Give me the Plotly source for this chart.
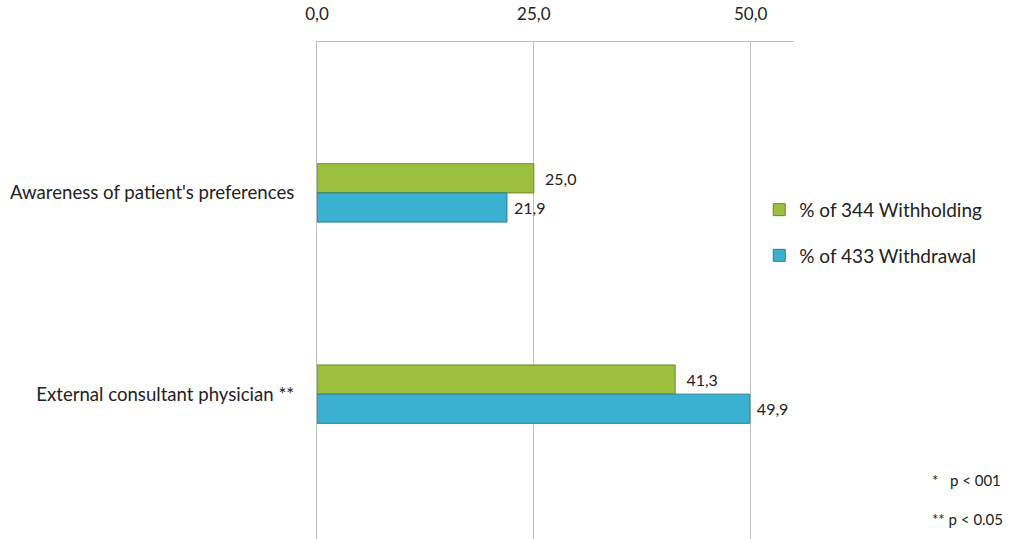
import plotly.graph_objects as go

categories = ["Awareness of patient's preferences", "External consultant physician **"]
withholding = [25.0, 41.3]
withdrawal = [21.9, 49.9]
series_names = ["% of 344 Withholding", "% of 433 Withdrawal"]
tick_vals = [0, 25, 50]
notes = ["*\u00a0\u00a0 p < 001", "** p < 0.05"]

FONT = "Lato, 'Open Sans', sans-serif"

fig = go.Figure()
fig.add_trace(go.Bar(
    y=categories, x=withholding, orientation="h", name=series_names[0],
    marker=dict(color="#9cbf3e", line=dict(color="#6d8a28", width=1)),
    text=withholding, texttemplate="\u00a0 %{x:.1f}", textposition="outside",
    textfont=dict(size=16, color="#222"), cliponaxis=False,
    legendgroup="a",
))
fig.add_trace(go.Bar(
    y=categories, x=withdrawal, orientation="h", name=series_names[1],
    marker=dict(color="#3bb1d2", line=dict(color="#287d96", width=1)),
    text=withdrawal, texttemplate="\u00a0%{x:.1f}", textposition="outside",
    textfont=dict(size=16, color="#222"), cliponaxis=False,
    legendgroup="b",
))

fig.update_layout(
    width=1011, height=539,
    margin=dict(l=317, r=217, t=42, b=0, autoexpand=False),
    paper_bgcolor="white", plot_bgcolor="white",
    barmode="group", bargap=0.71, bargroupgap=0,
    separators=",.",
    font=dict(family=FONT, size=14, color="#222"),
    showlegend=True,
    legend=dict(xref="container", yref="container", x=0.751, y=0.646,
                xanchor="left", yanchor="top",
                font=dict(size=19, color="#222"),
                traceorder="grouped", tracegroupgap=18,
                bgcolor="rgba(0,0,0,0)"),
    xaxis=dict(side="top", range=[0, 55], tickvals=tick_vals, tickformat=".1f",
               showgrid=True, gridcolor="#bfbfbf", gridwidth=1,
               showline=True, linecolor="#bfbfbf", linewidth=1, automargin=False,
               zeroline=False, ticks="", ticklabelstandoff=14,
               tickfont=dict(size=17, color="#222")),
    yaxis=dict(type="category", categoryorder="array", categoryarray=categories,
               range=[1.72, -0.75], showline=True, linecolor="#bfbfbf", linewidth=1,
               ticks="", ticklabelstandoff=18, tickfont=dict(size=18.6, color="#222"),
               showgrid=False, zeroline=False, automargin=False),
)

for i, note in enumerate(notes):
    fig.add_annotation(text=note, xref="paper", yref="paper",
                       x=1.285, y=[0.119, 0.040][i], xanchor="left", yanchor="middle",
                       showarrow=False, font=dict(size=15, color="#222"), align="left")

fig.write_html("out.html", post_script="document.body.style.margin='0';",
               config={"displayModeBar": False})
